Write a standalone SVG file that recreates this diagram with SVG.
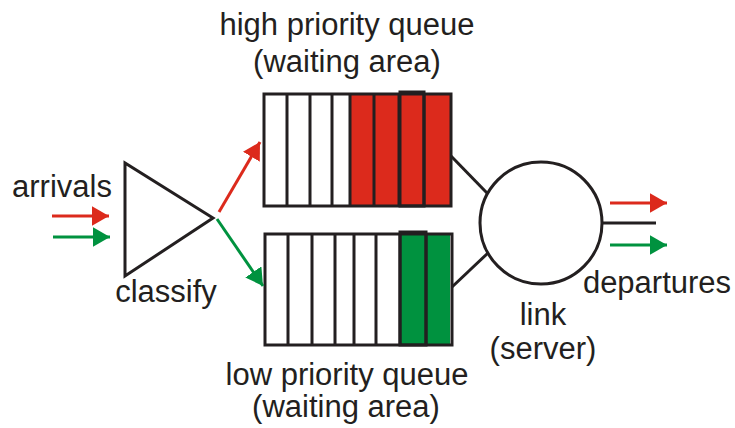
<svg xmlns="http://www.w3.org/2000/svg" width="735" height="428" viewBox="0 0 735 428">
<defs>
<style>
text{font-family:"Liberation Sans",Arial,sans-serif;font-size:31px;fill:#231f20;text-anchor:middle}
.blk{fill:none;stroke:#231f20;stroke-width:3}
.red{fill:#dc2a1c}
.grn{fill:#00923f}
.rl{stroke:#dc2a1c;stroke-width:3;fill:none}
.gl{stroke:#00923f;stroke-width:3;fill:none}
</style>
<marker id="ar" viewBox="0 0 10 10" refX="10" refY="5" markerWidth="5.7" markerHeight="6.5" markerUnits="strokeWidth" orient="auto" preserveAspectRatio="none"><path d="M0,0L10,5L0,10z" fill="#dc2a1c"/></marker>
<marker id="ag" viewBox="0 0 10 10" refX="10" refY="5" markerWidth="5.7" markerHeight="6.5" markerUnits="strokeWidth" orient="auto" preserveAspectRatio="none"><path d="M0,0L10,5L0,10z" fill="#00923f"/></marker>
</defs>
<g id="labels">
<text x="347" y="35">high priority queue</text>
<text x="347" y="72">(waiting area)</text>
<text x="347" y="385">low priority queue</text>
<text x="346" y="417">(waiting area)</text>
<text x="62" y="197">arrivals</text>
<text x="166" y="302">classify</text>
<text x="657" y="293">departures</text>
<text x="543" y="325">link</text>
<text x="543" y="359">(server)</text>
</g>
<g id="classifier"><polygon class="blk" points="125,163 125,276 213,218"/></g>
<g id="high-queue">
<rect class="red" x="350" y="94" width="100" height="112"/>
<rect class="blk" x="264" y="94" width="187" height="112"/>
<path class="blk" d="M287,94V206M310,94V206M332,94V206M350,94V206M374,94V206M399,94V206M424,94V206"/>
<rect class="blk" x="400" y="92" width="24" height="114"/>
</g>
<g id="low-queue">
<rect class="grn" x="400" y="234" width="50" height="111"/>
<rect class="blk" x="265" y="234" width="187" height="111"/>
<path class="blk" d="M288,234V345M312,234V345M335,234V345M354,234V345M376,234V345M400,234V345M426,234V345"/>
<rect class="blk" x="400" y="232" width="26" height="113"/>
</g>
<g id="server"><circle class="blk" cx="541" cy="223" r="61"/></g>
<g id="connectors">
<line class="rl" x1="52" y1="216" x2="109" y2="216" marker-end="url(#ar)"/>
<line class="gl" x1="53" y1="237" x2="110" y2="237" marker-end="url(#ag)"/>
<line class="rl" x1="219" y1="212" x2="260" y2="142" marker-end="url(#ar)"/>
<line class="gl" x1="217" y1="219" x2="263" y2="286" marker-end="url(#ag)"/>
<line class="blk" x1="451" y1="156" x2="487" y2="193"/>
<line class="blk" x1="452" y1="287" x2="488" y2="253"/>
<line class="blk" x1="602" y1="223" x2="656" y2="223"/>
<line class="rl" x1="610" y1="203" x2="667" y2="203" marker-end="url(#ar)"/>
<line class="gl" x1="610" y1="245" x2="667" y2="245" marker-end="url(#ag)"/>
</g>
</svg>
